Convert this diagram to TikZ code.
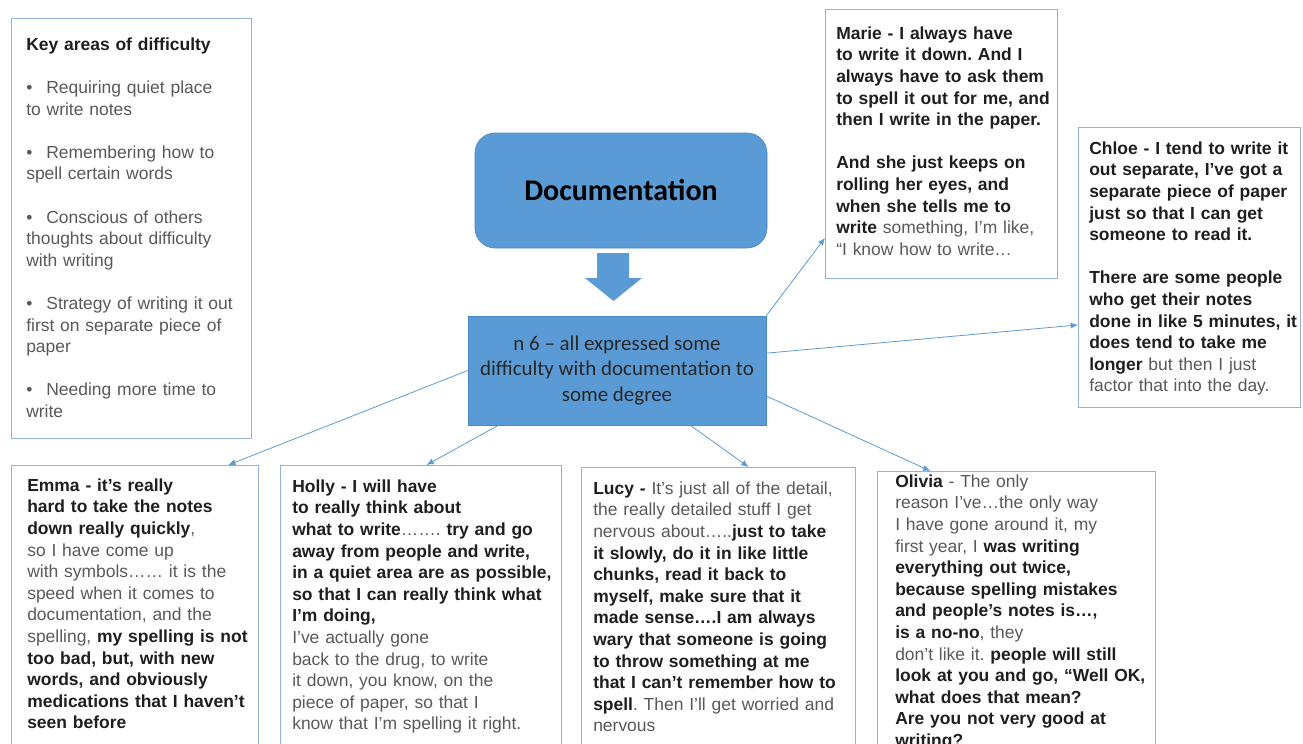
\documentclass[tikz,border=0pt]{standalone}
\usepackage{fontspec}
\setmainfont{Liberation Sans}
\newfontfamily\calibri{Carlito}
\usetikzlibrary{arrows.meta}
\definecolor{docblue}{HTML}{5B9BD5}
\definecolor{docedge}{HTML}{4A87C6}
\definecolor{boxline}{HTML}{95B3D7}
\definecolor{plaintext}{HTML}{595959}
\definecolor{strongtext}{HTML}{1E1E1E}
\newcommand{\hl}[1]{{\bfseries\color{strongtext}#1}}
\frenchspacing

\begin{document}
\begin{tikzpicture}[x=0.75pt,y=-0.75pt,
  >={Latex[length=5.5pt,width=4.5pt]},
  quotebox/.style={draw=boxline,line width=0.9pt,inner sep=0pt,anchor=north west},
  quotetext/.style={anchor=north west,inner sep=0pt,text width=250pt,align=left,
    font=\fontsize{13.1}{16.2}\selectfont,text=plaintext},
  bluebox/.style={fill=docblue,draw=docedge,line width=0.5pt},
  link/.style={docblue,line width=0.6pt}]
\useasboundingbox (0,0) rectangle (1303,743);
\clip (0,0) rectangle (1303,743);
\node[bluebox,rounded corners=15pt,minimum width=219pt,minimum height=86.25pt,font=\calibri\bfseries\fontsize{22.5}{27}\selectfont] (v0) at (621,190.5) {Documentation};
\node[bluebox,minimum width=223.5pt,minimum height=81.75pt,align=center,text=black!85,font=\calibri\fontsize{15.7}{19.1}\selectfont] (v1) at (617,370.5) {n 6 – all expressed some\\difficulty with documentation to\\some degree};
\fill[docblue] (597,253) -- (629,253) -- (629,278) -- (642,278) -- (613.5,301) -- (585,278) -- (597,278) -- cycle;
\node[quotebox,minimum width=180pt,minimum height=315pt] (v2) at (11,18) {};
\node[quotebox,minimum width=174pt,minimum height=201.75pt] (v3) at (825,9) {};
\node[quotebox,minimum width=166.5pt,minimum height=210pt] (v4) at (1078,127) {};
\node[quotebox,minimum width=185.25pt,minimum height=240pt] (v5) at (11,465) {};
\node[quotebox,minimum width=210.75pt,minimum height=240pt] (v6) at (280,465) {};
\node[quotebox,minimum width=205.5pt,minimum height=240pt] (v7) at (581,467) {};
\node[quotebox,minimum width=208.5pt,minimum height=240pt] (v8) at (877,471) {};
\node[quotetext] (t2) at ([shift={(11.25pt,-12.7pt)}]v2.north west) {\strut\hl{Key areas of difficulty}\\[16.2pt]
\textbullet\hspace{0.8em}Requiring quiet place\\to write notes\\[16.2pt]
\textbullet\hspace{0.8em}Remembering how to\\spell certain words\\[16.2pt]
\textbullet\hspace{0.8em}Conscious of others\\thoughts about difficulty\\with writing\\[16.2pt]
\textbullet\hspace{0.8em}Strategy of writing it out\\first on separate piece of\\paper\\[16.2pt]
\textbullet\hspace{0.8em}Needing more time to\\write};
\node[quotetext] (t3) at ([shift={(8.25pt,-11.2pt)}]v3.north west) {\strut\hl{Marie - I always have\\to write it down. And I\\always have to ask them\\to spell it out for me, and\\then I write in the paper.\\[16.2pt]And she just keeps on\\rolling her eyes, and\\when she tells me to\\write} something, I'm like,\\“I know how to write…};
\node[quotetext] (t4) at ([shift={(8.25pt,-8.9pt)}]v4.north west) {\strut\hl{Chloe - I tend to write it\\out separate, I've got a\\separate piece of paper\\just so that I can get\\someone to read it.\\[16.2pt]There are some people\\who get their notes\\done in like 5 minutes, it\\does tend to take me\\longer} but then I just\\factor that into the day.};
\node[quotetext] (t5) at ([shift={(12pt,-8.2pt)}]v5.north west) {\strut\hl{Emma - it's really\\hard to take the notes\\down really quickly},\\so I have come up\\with symbols…… it is the\\speed when it comes to\\documentation, and the\\spelling, \hl{my spelling is not\\too bad, but, with new\\words, and obviously\\medications that I haven't\\seen before}};
\node[quotetext] (t6) at ([shift={(9pt,-8.9pt)}]v6.north west) {\strut\hl{Holly - I will have\\to really think about\\what to write}……. \hl{try and go\\away from people and write,\\in a quiet area are as possible,\\so that I can really think what\\I'm doing,}\\I've actually gone\\back to the drug, to write\\it down, you know, on the\\piece of paper, so that I\\know that I'm spelling it right.};
\node[quotetext] (t7) at ([shift={(9pt,-8.9pt)}]v7.north west) {\strut\hl{Lucy -} It's just all of the detail,\\the really detailed stuff I get\\nervous about…..\hl{just to take\\it slowly, do it in like little\\chunks, read it back to\\myself, make sure that it\\made sense….I am always\\wary that someone is going\\to throw something at me\\that I can't remember how to\\spell}. Then I'll get worried and\\nervous};
\node[quotetext] (t8) at ([shift={(13.5pt,-0.7pt)}]v8.north west) {\strut\hl{Olivia} - The only\\reason I've…the only way\\I have gone around it, my\\first year, I \hl{was writing\\everything out twice,\\because spelling mistakes\\and people's notes is…,\\is a no-no}, they\\don't like it. \hl{people will still\\look at you and go, “Well OK,\\what does that mean?\\Are you not very good at\\writing?}};
\path [link,->] (v1.west) edge ([xshift=-23.25pt]v5.north east);
\path [link,->] ([xshift=23pt]v1.south west) edge ([xshift=4pt]v6.north);
\path [link,->] ([xshift=-57pt]v1.south east) edge ([xshift=22.5pt]v7.north);
\path [link,->] ([yshift=22pt]v1.south east) edge ([xshift=40pt]v8.north west);
\path [link,->] (v1.north east) edge ([yshift=31pt]v3.south west);
\path [link,->] ([yshift=13pt]v1.east) edge ([yshift=-43pt]v4.west);
\end{tikzpicture}
\end{document}
